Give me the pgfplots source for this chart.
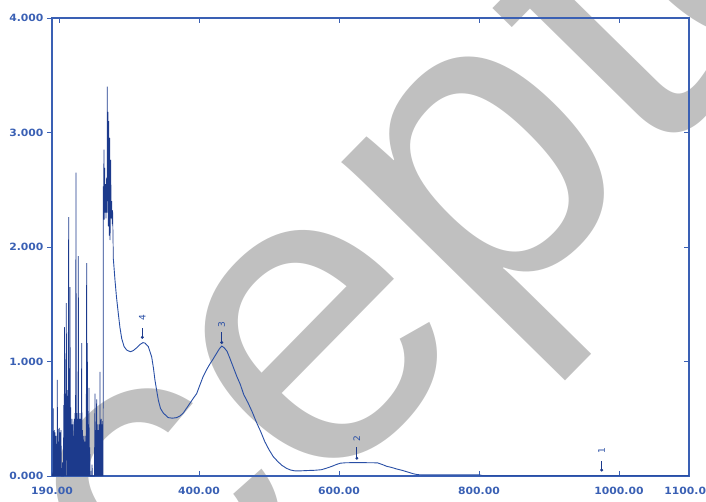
\documentclass[border=0pt]{standalone}
\usepackage{pgfplots}
\pgfplotsset{compat=1.18}
\usepackage{pgfplotstable}
\usepackage{fontspec}
\setmainfont{DejaVu Sans}
\newfontfamily\wmfont{Liberation Sans}
\newfontfamily\tickfont{DejaVu Sans}[FakeStretch=1.08]
\definecolor{axblue}{RGB}{58,96,180}
\definecolor{curveblue}{RGB}{40,78,165}
\definecolor{denseblue}{RGB}{28,58,140}
\definecolor{wmgray}{RGB}{192,192,192}

\pgfplotstableread{
x y
190.3 0
191.0 0.02
191.6 0.0
191.9 0.59
192.2 0.0
192.6 0.28
193.0 0.0
193.4 0.40
193.8 0.0
194.2 0.38
194.6 0.0
195.0 0.30
195.4 0.0
195.8 0.35
196.2 0.0
196.8 0.28
197.2 0.0
197.6 0.84
198.0 0.0
198.5 0.41
199.0 0.0
199.5 0.30
200.0 0.0
200.5 0.42
201.0 0.0
201.6 0.38
202.2 0.0
202.9 0.40
203.4 0.0
204.5 0.0
205.0 0.12
205.5 0.0
206.3 0.0
206.8 0.62
207.2 0.0
208.0 1.30
208.4 0.0
208.9 0.72
209.4 0.0
210.5 1.51
210.9 0.0
211.4 0.75
211.8 0.0
212.3 0.70
212.8 0.0
213.8 2.26
214.2 0.0
214.7 0.75
215.1 0.0
215.8 1.65
216.2 0.0
216.7 0.60
217.1 0.0
217.6 0.45
218.1 0.0
218.6 0.50
219.0 0.0
219.6 0.45
220.1 0.0
220.6 0.35
221.0 0.0
221.6 0.50
222.2 0.0
222.9 0.55
223.5 0.0
224.3 2.65
224.8 0.0
225.3 0.55
225.8 0.0
226.4 0.50
227.0 0.0
227.6 1.92
228.2 0.0
228.8 0.50
229.4 0.0
230.0 0.55
230.6 0.0
231.2 0.50
231.8 0.0
232.4 1.16
233.0 0.0
233.6 0.40
234.2 0.0
234.8 0.35
235.4 0.0
236.0 0.30
236.6 0.0
237.1 0.35
237.6 0.0
238.2 0.30
238.8 0.0
239.5 1.86
239.9 0.0
240.5 1.16
241.0 0.0
241.6 0.45
242.2 0.0
242.8 0.77
243.4 0.0
244.0 0.25
244.6 0.0
246.7 0.0
247.2 0.10
247.7 0.0
250.5 0.0
251.0 0.35
251.4 0.72
251.8 0.0
252.3 0.40
252.8 0.0
253.3 0.45
253.8 0.67
254.2 0.0
254.7 0.40
255.2 0.0
255.7 0.45
256.2 0.0
256.7 0.40
257.2 0.0
257.8 0.45
258.3 0.0
258.6 0.91
259.0 0.0
259.5 0.45
260.0 0.0
260.5 0.50
261.0 0.0
261.5 0.45
262.0 0.0
262.5 0.48
263.0 0.0
263.3 2.53
263.7 2.38
264.2 2.85
264.6 2.24
265.3 2.69
265.9 2.30
266.6 2.55
267.2 2.25
268.0 2.60
268.6 2.30
269.0 3.40
269.4 2.40
269.9 3.18
270.5 2.18
271.2 3.10
271.8 2.10
272.5 2.95
273.0 2.06
273.8 2.76
274.6 2.25
275.3 2.40
276.0 2.20
276.6 2.32
277.6 1.90
}\noisetab

\pgfplotstableread{
x y
277.6 1.90
280 1.71
282 1.57
284.7 1.42
287 1.30
289.6 1.20
293 1.13
296.7 1.10
302 1.085
306 1.095
311 1.12
316 1.15
320 1.165
323 1.16
327.6 1.13
332.4 1.04
335 0.94
337 0.84
340 0.73
342 0.66
345 0.59
349 0.55
356 0.51
362 0.505
368 0.51
373 0.525
377.6 0.55
382 0.59
387 0.635
392 0.68
396.7 0.72
401 0.79
406 0.87
411 0.93
415.7 0.98
420 1.02
425 1.07
429 1.11
432.5 1.135
436 1.12
440 1.09
444 1.03
449 0.95
454 0.87
459 0.80
464 0.71
470 0.64
476 0.56
482 0.47
488 0.39
494 0.30
500 0.23
506 0.17
512 0.13
518 0.095
525 0.067
531 0.052
537 0.045
545 0.045
555 0.048
565 0.05
575 0.055
583 0.07
590 0.085
596 0.10
602 0.112
610 0.116
630 0.117
655 0.115
662 0.10
668 0.085
675 0.075
682 0.062
690 0.05
698 0.035
706 0.02
712 0.012
720 0.01
800 0.01
805 0.004
1100 0.004
}\curvetab

\pgfplotstableread{
x y err
319 1.211 0.079
432.4 1.166 0.094
625.5 0.155 0.096
975.3 0.052 0.082
}\peaktab

\pgfplotstableread{
x y lab
319 1.348 4
432.4 1.290 3
625.5 0.291 2
975.3 0.192 1
}\labtab

\begin{document}
\begin{tikzpicture}
\path[use as bounding box] (0pt,0pt) rectangle (706pt,-501pt);
\node[text=wmgray, font=\wmfont\fontsize{425}{425}\selectfont, rotate=45.5, inner sep=0pt] at (363pt,-304pt) {Accepted};

\begin{axis}[
  at={(52pt,-476pt)}, anchor=south west,
  width=637pt, height=458pt, scale only axis,
  xmin=190, xmax=1100, ymin=0, ymax=4,
  axis line style={axblue, line width=1.1pt},
  xtick={190,400,600,800,1000,1100},
  xticklabels={190.00,400.00,600.00,800.00,1000.00,1100.00},
  extra x ticks={200}, extra x tick labels={},
  ytick={0,1,2,3,4}, yticklabels={}, ytick pos=right,
  tick align=inside, major tick length=5pt,
  tick style={axblue, line width=0.9pt},
  x tick label style={font=\tickfont\bfseries\fontsize{10}{10}\selectfont, text=axblue, yshift=-8pt},
]
\addplot[denseblue, line width=0.7pt, line join=miter] table[x=x,y=y] {\noisetab};
\addplot[curveblue, line width=0.9pt, line join=round] table[x=x,y=y] {\curvetab};
\addplot[only marks, mark=*, mark size=1.3pt, denseblue,
  error bars/.cd, y dir=plus, y explicit, error mark=none,
  error bar style={denseblue, line width=0.9pt}]
  table[x=x,y=y,y error=err] {\peaktab};
\addplot[draw=none, mark=none, nodes near coords, point meta=explicit symbolic,
  every node near coord/.style={rotate=90, anchor=west, inner sep=0.5pt,
    font=\fontsize{9}{9}\selectfont, text=curveblue}]
  table[x=x,y=y,meta=lab] {\labtab};
\end{axis}

\begin{axis}[
  at={(52pt,-476pt)}, anchor=south west,
  width=637pt, height=458pt, scale only axis,
  xmin=190, xmax=1100, ymin=0, ymax=4,
  hide x axis, axis y line*=left,
  y axis line style={draw=none},
  ytick={0,1,2,3,4},
  yticklabels={0.000,1.000,2.000,3.000,4.000},
  tick align=outside, major tick length=5pt,
  tick style={axblue, line width=0.9pt},
  y tick label style={font=\tickfont\bfseries\fontsize{10}{10}\selectfont, text=axblue},
]
\end{axis}
\end{tikzpicture}
\end{document}
